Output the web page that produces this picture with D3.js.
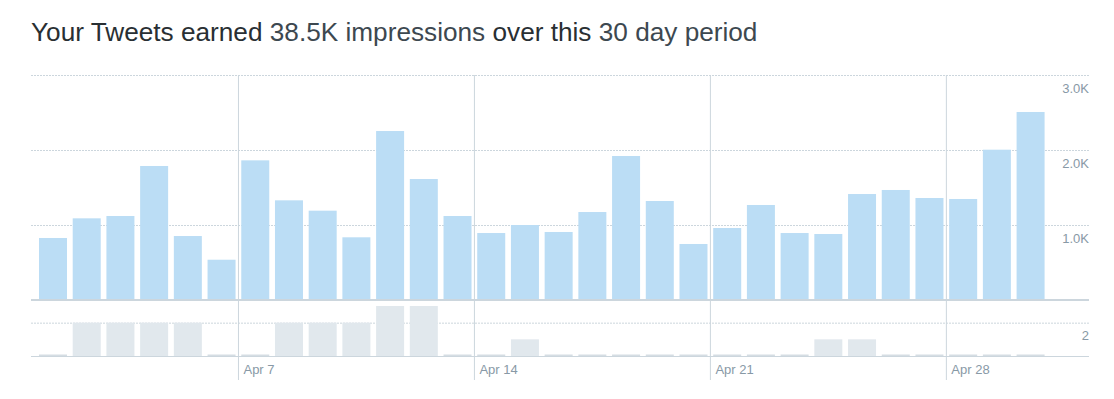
<!DOCTYPE html>
<html>
<head>
<meta charset="utf-8">
<script src="https://cdn.jsdelivr.net/npm/d3@7"></script>
<style>
    body { margin: 0; background: #fff; }
    svg { display: block; font-family: "Liberation Sans", Arial, sans-serif; }
    .grid line { stroke: #ccd6dd; stroke-dasharray: 2,1; }
    .grid path { display: none; }
    .label text { fill: #8899a6; font-size: 13px; }
    .label path, .label line { display: none; }
</style>
</head>
<body>
<div id="chart"></div>
<script>
// Apr 1 .. Apr 30
const startDay = '2019-04-01';
const impressions = [
    827, 1089, 1120, 1787, 853, 537, 1862, 1329, 1191, 836,
    2253, 1613, 1120, 893, 1000, 907, 1173, 1920, 1320, 747,
    960, 1267, 893, 880, 1413, 1467, 1360, 1347, 2004, 2507
];
const tweets = [
    0, 2, 2, 2, 2, 0, 0, 2, 2, 2,
    3, 3, 0, 0, 1, 0, 0, 0, 0, 0,
    0, 0, 0, 1, 1, 0, 0, 0, 0, 0
];
const impressionTicks = [1000, 2000, 3000];
const tweetTicks = [2];
const weekTicks = ['2019-04-07', '2019-04-14', '2019-04-21', '2019-04-28'];

let parse = d3.utcParse('%Y-%m-%d');
let days = d3.utcDay.range(parse(startDay), d3.utcDay.offset(parse(startDay), impressions.length));

let width = 1114;
let height = 399;
let left = 31;
let right = 1089;

let svg = d3.select('#chart')
    .append('svg')
    .attr('width', width)
    .attr('height', height);

// title
let title = svg.append('text')
    .attr('x', 31)
    .attr('y', 41)
    .style('font-size', '26.2px')
    .style('fill', '#292f33');
title.append('tspan').text('Your Tweets earned ');
title.append('tspan').style('fill', '#3d4850').text('38.5K impressions');
title.append('tspan').text(' over this ');
title.append('tspan').style('fill', '#3d4850').text('30 day period');

let x = d3.scaleUtc()
    .domain([days[0], d3.utcDay.offset(days[days.length - 1], 1)])
    .range([35.7, 1047]);
let barWidth = 28;

let y = d3.scaleLinear().domain([0, 3000]).range([300, 75]);
let y2 = d3.scaleLinear().domain([0, 3]).range([356, 306]);

// gridlines
svg.append('g')
    .attr('class', 'grid')
    .attr('transform', 'translate(' + right + ',0)')
    .call(d3.axisLeft(y).tickValues(impressionTicks).tickSize(right - left).tickFormat(''));
svg.append('g')
    .attr('class', 'grid')
    .attr('transform', 'translate(' + right + ',0)')
    .call(d3.axisLeft(y2).tickValues(tweetTicks).tickSize(right - left).tickFormat(''));

// week lines + date labels
let xAxis = svg.append('g')
    .attr('transform', 'translate(0,380)')
    .call(d3.axisBottom(x)
        .tickValues(weekTicks.map(parse))
        .tickSize(-305)
        .tickFormat(d3.utcFormat('%b %-d')));
xAxis.select('.domain').remove();
xAxis.selectAll('line').attr('stroke', '#ccd6dd');
xAxis.selectAll('text')
    .attr('text-anchor', 'start')
    .attr('x', 5)
    .attr('y', -6)
    .attr('dy', 0)
    .style('fill', '#8899a6')
    .style('font-size', '13px')
    .style('font-family', '"Liberation Sans", Arial, sans-serif');

// impression bars
svg.append('g').selectAll('rect')
    .data(impressions)
    .enter()
    .append('rect')
    .attr('x', (d, i) => x(days[i]) + 3.3)
    .attr('width', barWidth)
    .attr('y', d => y(d))
    .attr('height', d => y(0) - y(d))
    .attr('fill', '#bbddf5');

// tweet bars
svg.append('g').selectAll('rect')
    .data(tweets)
    .enter()
    .append('rect')
    .attr('x', (d, i) => x(days[i]) + 3.3)
    .attr('width', barWidth)
    .attr('y', d => d ? y2(d) : y2(0) - 1.5)
    .attr('height', d => d ? y2(0) - y2(d) : 1.5)
    .attr('fill', d => d ? '#e1e8ed' : '#d5dde3');

// baselines
svg.append('line')
    .attr('x1', left).attr('x2', right)
    .attr('y1', y(0)).attr('y2', y(0))
    .attr('stroke', '#ccd6dd')
    .attr('stroke-width', 2);
svg.append('line')
    .attr('x1', left).attr('x2', right)
    .attr('y1', y2(0) + 0.5).attr('y2', y2(0) + 0.5)
    .attr('stroke', '#ccd6dd')
    .attr('stroke-width', 1);

// right labels
svg.append('g')
    .attr('class', 'label')
    .attr('transform', 'translate(' + right + ',13)')
    .call(d3.axisLeft(y).tickValues(impressionTicks).tickSize(0).tickPadding(0)
        .tickFormat(d => (d / 1000).toFixed(1) + 'K'));
svg.append('g')
    .attr('class', 'label')
    .attr('transform', 'translate(' + right + ',13)')
    .call(d3.axisLeft(y2).tickValues(tweetTicks).tickSize(0).tickPadding(0)
        .tickFormat(d3.format('d')));
svg.selectAll('.label text').style('font-family', '"Liberation Sans", Arial, sans-serif');
</script>
</body>
</html>
